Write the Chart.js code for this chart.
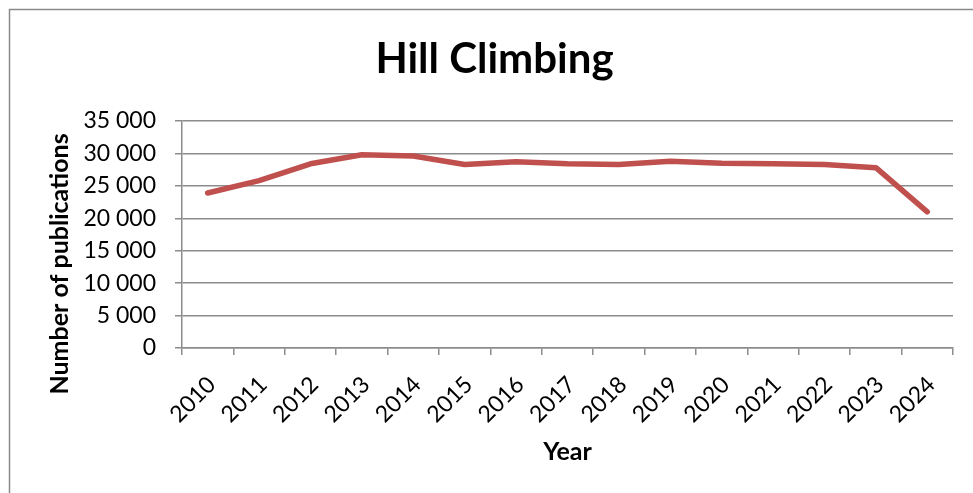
<!DOCTYPE html>
<html>
<head>
<meta charset="utf-8">
<script src="https://cdn.jsdelivr.net/npm/chart.js@4/dist/chart.umd.min.js"></script>
<style>
  html, body { margin: 0; padding: 0; background: #fff; }
  #wrap { width: 973px; height: 493px; }
</style>
</head>
<body>
<div id="wrap"><canvas id="hill-chart" width="973" height="493"></canvas></div>
<script>
// Data
const years = ['2010', '2011', '2012', '2013', '2014', '2015', '2016', '2017',
               '2018', '2019', '2020', '2021', '2022', '2023', '2024'];
const publications = [23900, 25800, 28400, 29800, 29600, 28300, 28700, 28400,
                      28300, 28800, 28500, 28400, 28300, 27800, 21000];
const yTickValues = [0, 5000, 10000, 15000, 20000, 25000, 30000, 35000];
const yAxisTitle = 'Number of publications';

const axisGrey = '#8c8c8c';
const fontFamily = 'Lato, "Open Sans", sans-serif';

// Format numbers with a space as thousands separator (e.g. 35 000)
function spaced(v) {
    return String(v).replace(/\B(?=(\d{3})+(?!\d))/g, ' ');
}

// Outer frame of the chart and the rotated y axis title
const framePlugin = {
    id: 'frame',
    beforeDraw(chart) {
        const ctx = chart.ctx;
        ctx.save();
        ctx.fillStyle = '#fff';
        ctx.fillRect(0, 0, chart.width, chart.height);
        ctx.strokeStyle = '#8a8a8a';
        ctx.lineWidth = 1.5;
        ctx.strokeRect(9.5, 9.5, chart.width + 20, chart.height + 20);
        ctx.restore();
    },
    afterDraw(chart) {
        const ctx = chart.ctx;
        ctx.save();
        ctx.translate(60, 264);
        ctx.rotate(-Math.PI / 2);
        ctx.fillStyle = '#000';
        ctx.font = 'bold 25px ' + fontFamily;
        ctx.textAlign = 'center';
        ctx.textBaseline = 'middle';
        ctx.fillText(yAxisTitle, 0, 0);
        ctx.restore();
    }
};

const ctx = document.getElementById('hill-chart').getContext('2d');
const hillChart = new Chart(ctx, {
    type: 'line',
    data: {
        labels: years,
        datasets: [{
            label: 'Hill Climbing',
            data: publications,
            borderColor: '#C0504D',
            backgroundColor: '#C0504D',
            borderWidth: 5.5,
            borderCapStyle: 'round',
            borderJoinStyle: 'round',
            pointRadius: 0,
            tension: 0,
            fill: false
        }]
    },
    options: {
        responsive: false,
        animation: false,
        layout: { padding: { top: 10, right: 20, left: 36, bottom: 0 } },
        plugins: {
            legend: { display: false },
            tooltip: { enabled: false },
            title: {
                display: true,
                text: 'Hill Climbing',
                color: '#000',
                font: { family: fontFamily, size: 42, weight: 'bold' },
                padding: { top: 24, bottom: 36.6 }
            }
        },
        scales: {
            x: {
                offset: true,
                grid: {
                    offset: true,
                    drawOnChartArea: false,
                    drawTicks: true,
                    tickLength: 7,
                    color: axisGrey,
                    lineWidth: 1.5
                },
                border: { color: axisGrey, width: 1.5 },
                ticks: {
                    color: '#000',
                    font: { family: fontFamily, size: 23 },
                    maxRotation: 45,
                    minRotation: 45,
                    padding: 16,
                    labelOffset: 4,
                    autoSkip: false
                },
                title: {
                    display: true,
                    text: 'Year',
                    color: '#000',
                    font: { family: fontFamily, size: 25, weight: 'bold' },
                    padding: { top: 0, bottom: 26 }
                },
                afterFit(scale) { scale.height = 145; }
            },
            y: {
                min: 0,
                max: 35000,
                afterBuildTicks(scale) {
                    scale.ticks = yTickValues.map(v => ({ value: v }));
                },
                grid: {
                    drawTicks: true,
                    tickLength: 7,
                    color: axisGrey,
                    lineWidth: 1.5
                },
                border: { color: axisGrey, width: 1.5 },
                ticks: {
                    color: '#000',
                    font: { family: fontFamily, size: 23 },
                    padding: 19,
                    callback: (value) => spaced(value)
                },
                afterFit(scale) { scale.width = 146; }
            }
        }
    },
    plugins: [framePlugin]
});
</script>
</body>
</html>
